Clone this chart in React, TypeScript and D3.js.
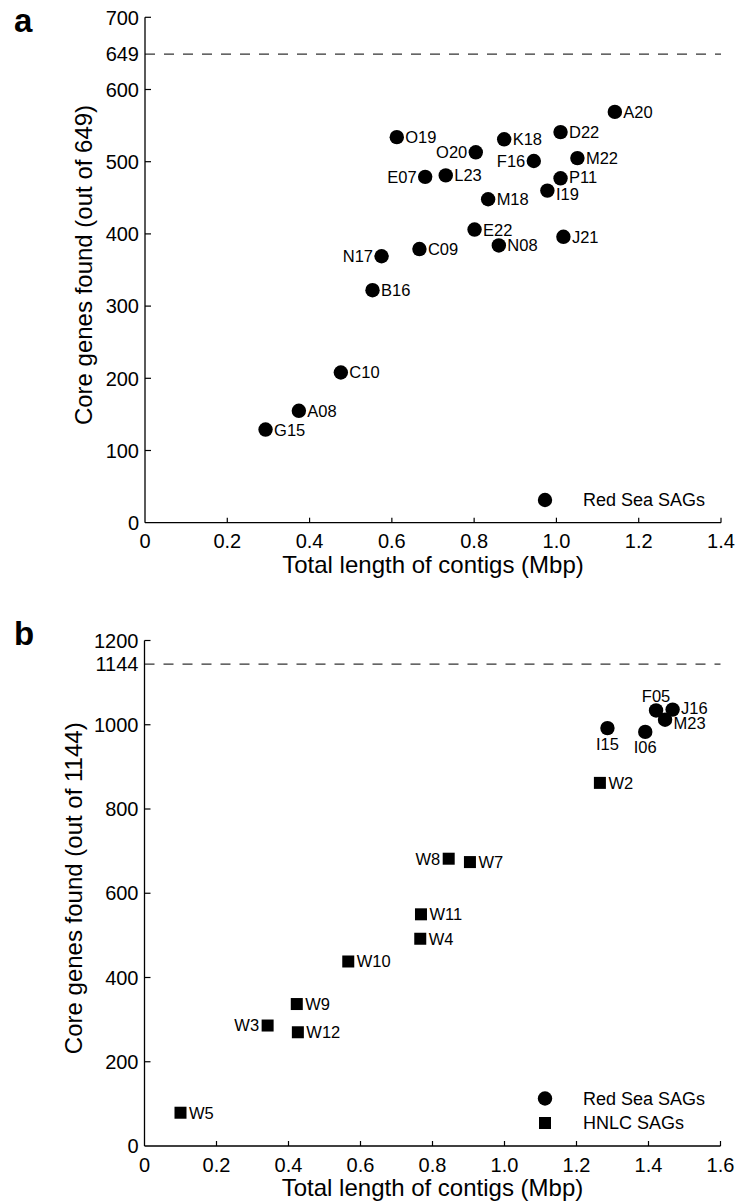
import React from "react";
import * as d3 from "d3";

// ---------- Data ----------
// Panel a: Red Sea SAGs
const aNames = ["A20","D22","O19","K18","O20","F16","M22","E07","L23","P11","I19","M18","E22","J21","N08","C09","N17","B16","C10","A08","G15"];
const aLength = [1.142,1.010,0.612,0.873,0.804,0.945,1.051,0.681,0.731,1.010,0.978,0.834,0.801,1.017,0.860,0.667,0.575,0.553,0.476,0.374,0.293];
const aCore = [569,541,534,531,513,501,505,479,481,477,460,448,406,396,384,379,369,322,208,155,129];
const aLabelPlace: Record<string,string> = {O20:"left",F16:"left",E07:"left",N17:"left",P11:"rightUp",I19:"rightDown"};
const aTicksY = [0,100,200,300,400,500,600,649,700];
const aTicksX = [0,0.2,0.4,0.6,0.8,1.0,1.2,1.4];
const aTotal = 649;

// Panel b: Red Sea SAGs and HNLC SAGs
const bRedNames = ["F05","J16","M23","I15","I06"];
const bRedLength = [1.421,1.467,1.446,1.286,1.391];
const bRedCore = [1034,1036,1012,992,983];
const bHnlcNames = ["W2","W8","W7","W11","W4","W10","W9","W3","W12","W5"];
const bHnlcLength = [1.265,0.845,0.904,0.768,0.766,0.566,0.423,0.342,0.426,0.100];
const bHnlcCore = [862,682,674,550,492,438,337,286,270,79];
const bLabelPlace: Record<string,string> = {F05:"above",J16:"rightUp",M23:"rightDown",I15:"below",I06:"below",W8:"left",W3:"left"};
const bTicksY = [0,200,400,600,800,1000,1144,1200];
const bTicksX = [0,0.2,0.4,0.6,0.8,1.0,1.2,1.4,1.6];
const bTotal = 1144;

const FONT = "'Liberation Sans', Arial, Helvetica, sans-serif";

type Pt = { name: string; x: number; y: number; place: string; shape: "circle" | "square" };

function fmtX(d: number) {
  return d === 0 ? "0" : d.toFixed(1);
}

function Panel(props: {
  letter: string; letterY: number;
  top: number; bottom: number; left: number; right: number;
  xMax: number; yMax: number; ticksX: number[]; ticksY: number[];
  total: number; yLabel: string; yLabelX: number;
  points: Pt[]; legend: { label: string; shape: "circle" | "square" }[];
  legendY: number;
}) {
  const { top, bottom, left, right } = props;
  const x = d3.scaleLinear().domain([0, props.xMax]).range([left, right]);
  const y = d3.scaleLinear().domain([0, props.yMax]).range([bottom, top]);
  const r = 7.2;
  const sq = 12;
  const off = 8.5;
  return (
    <g fontFamily={FONT} fill="#000">
      <text x={14} y={props.letterY} fontSize={33} fontWeight="bold">{props.letter}</text>
      {/* dashed total line */}
      <line x1={left} x2={right} y1={y(props.total)} y2={y(props.total)} stroke="#333" strokeWidth={1.1} strokeDasharray="10,9" />
      {/* axes */}
      <line x1={left} x2={left} y1={top} y2={bottom} stroke="#000" strokeWidth={1.3} />
      <line x1={left} x2={right} y1={bottom} y2={bottom} stroke="#000" strokeWidth={1.3} />
      {props.ticksY.map((t) => (
        <g key={"y" + t}>
          {t !== props.total && t !== 0 && <line x1={left} x2={left + 6} y1={y(t)} y2={y(t)} stroke="#000" strokeWidth={1.2} />}
          <text x={left - 6} y={y(t)} dy="0.36em" textAnchor="end" fontSize={20}>{t}</text>
        </g>
      ))}
      {props.ticksX.map((t) => (
        <g key={"x" + t}>
          {t !== 0 && <line x1={x(t)} x2={x(t)} y1={bottom} y2={bottom - 5} stroke="#000" strokeWidth={1.2} />}
          <text x={x(t)} y={bottom + 25.5} textAnchor="middle" fontSize={20}>{fmtX(t)}</text>
        </g>
      ))}
      <text x={(left + right) / 2} y={bottom + 50} textAnchor="middle" fontSize={24}>Total length of contigs (Mbp)</text>
      <text transform={`translate(${props.yLabelX},${(top + bottom) / 2 - 5}) rotate(-90)`} textAnchor="middle" fontSize={24}>{props.yLabel}</text>
      {/* points */}
      {props.points.map((p) => {
        const cx = x(p.x);
        const cy = y(p.y);
        let lx = cx + off, ly = cy, anchor = "start", dy = "0.36em";
        if (p.place === "left") { lx = cx - off; anchor = "end"; }
        else if (p.place === "rightUp") { ly = cy - 1.5; }
        else if (p.place === "rightDown") { ly = cy + 3; }
        else if (p.place === "above") { lx = cx; ly = cy - 8; anchor = "middle"; dy = "0"; }
        else if (p.place === "below") { lx = cx; ly = cy + 21.5; anchor = "middle"; dy = "0"; }
        return (
          <g key={p.name}>
            {p.shape === "circle"
              ? <circle cx={cx} cy={cy} r={r} fill="#000" />
              : <rect x={cx - sq / 2} y={cy - sq / 2} width={sq} height={sq} fill="#000" />}
            <text x={lx} y={ly} dy={dy} textAnchor={anchor} fontSize={16.5}>{p.name}</text>
          </g>
        );
      })}
      {/* legend */}
      {props.legend.map((l, i) => {
        const ly = props.legendY + i * 24.5;
        return (
          <g key={l.label}>
            {l.shape === "circle"
              ? <circle cx={545} cy={ly} r={r} fill="#000" />
              : <rect x={545 - sq / 2} y={ly - sq / 2} width={sq} height={sq} fill="#000" />}
            <text x={583} y={ly} dy="0.36em" fontSize={18}>{l.label}</text>
          </g>
        );
      })}
    </g>
  );
}

export default function App() {
  const aPoints: Pt[] = aNames.map((n, i) => ({
    name: n, x: aLength[i], y: aCore[i],
    place: aLabelPlace[n] || "right", shape: "circle",
  }));
  const bPoints: Pt[] = [
    ...bRedNames.map((n, i) => ({ name: n, x: bRedLength[i], y: bRedCore[i], place: bLabelPlace[n] || "right", shape: "circle" as const })),
    ...bHnlcNames.map((n, i) => ({ name: n, x: bHnlcLength[i], y: bHnlcCore[i], place: bLabelPlace[n] || "right", shape: "square" as const })),
  ];
  return (
    <svg width={738} height={1204} style={{ position: "absolute", left: 0, top: 0, background: "#fff" }}>
      <rect width={738} height={1204} fill="#fff" />
      <Panel letter="a" letterY={31.5} top={17.3} bottom={522.7} left={145} right={721}
        xMax={1.4} yMax={700} ticksX={aTicksX} ticksY={aTicksY} total={aTotal}
        yLabel="Core genes found (out of 649)" yLabelX={92}
        points={aPoints} legend={[{ label: "Red Sea SAGs", shape: "circle" }]} legendY={500} />
      <Panel letter="b" letterY={645} top={640.5} bottom={1146} left={144.5} right={720.5}
        xMax={1.6} yMax={1200} ticksX={bTicksX} ticksY={bTicksY} total={bTotal}
        yLabel="Core genes found (out of 1144)" yLabelX={81.5}
        points={bPoints} legend={[{ label: "Red Sea SAGs", shape: "circle" }, { label: "HNLC SAGs", shape: "square" }]} legendY={1098.5} />
    </svg>
  );
}
